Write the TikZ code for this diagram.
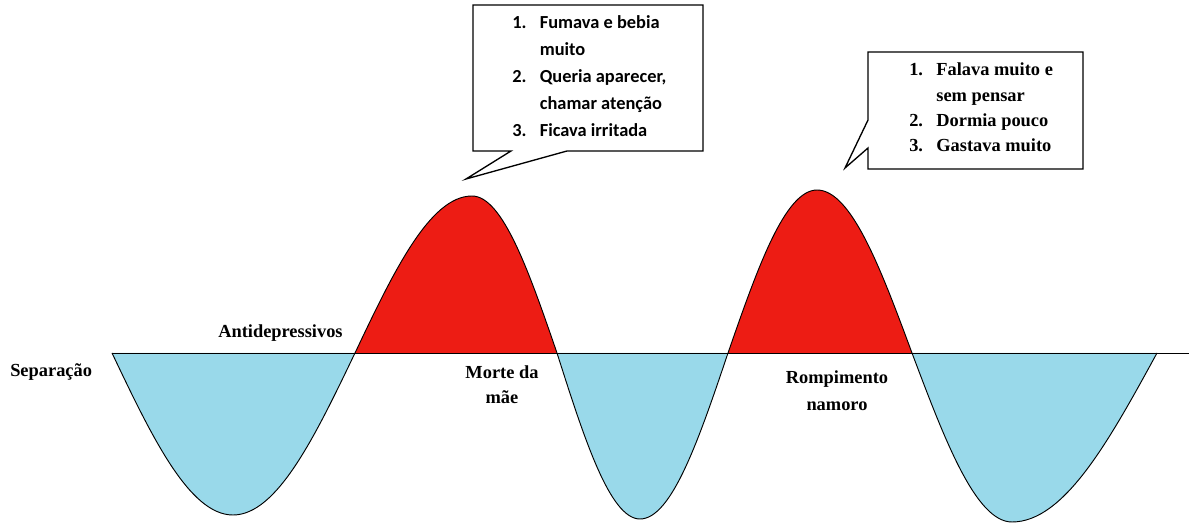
\documentclass[tikz,border=0pt]{standalone}
\usepackage{fontspec}
\setmainfont{Liberation Serif}
\newfontfamily\calib{Carlito}
\definecolor{wred}{RGB}{237,28,20}
\definecolor{wblue}{RGB}{153,217,234}
\begin{document}
\begin{tikzpicture}[x=0.75pt,y=-0.75pt,
  curveline/.style={draw=black,line width=0.7pt,line join=round},
  boxline/.style={draw=black,line width=1pt,fill=white,line join=miter},
  lbl/.style={inner sep=0pt,font=\fontsize{13.8}{18.75}\selectfont\bfseries},
  txt/.style={inner sep=0pt,anchor=base west}]
\useasboundingbox (0,0) rectangle (1189,523);
% lobes
\fill[wblue] (112,353) sin (233,515) cos (355,353) -- cycle;
\fill[wred]  (355,353) sin (472,196) cos (557,353) -- cycle;
\fill[wblue] (557,353) sin (640,519) cos (728,353) -- cycle;
\fill[wred]  (728,353) sin (817,190) cos (912,353) -- cycle;
\fill[wblue] (912,353) sin (1012,522) cos (1157,353) -- cycle;
% axis
\draw[line width=0.7pt] (112,353) -- (1189,353);
% curve
\draw[curveline] (112,353) sin (233,515) cos (355,353) sin (472,196) cos (557,353)
  sin (640,519) cos (728,353) sin (817,190) cos (912,353) sin (1012,522) cos (1157,353);
% callout 1
\coordinate (c1tl) at (473,5);
\coordinate (c1tr) at (703,5);
\coordinate (c1br) at (703,151);
\coordinate (c1bl) at (473,151);
\coordinate (c1a) at (511,151);
\coordinate (c1tip) at (466,179);
\coordinate (c1b) at (567,151);
\draw[boxline] (c1a) -- (c1bl) -- (c1tl) -- (c1tr) -- (c1br) -- (c1b) -- (c1tip) -- cycle;
\node[txt] (t1) at (512,29) {\calib\fontsize{13.8}{20.25}\selectfont\bfseries
  \begin{tabular}[t]{@{}l@{\hspace{10pt}}l@{}}
  1. & Fumava e bebia\\
     & muito\\
  2. & Queria aparecer,\\
     & chamar atenção\\
  3. & Ficava irritada
  \end{tabular}};
% callout 2
\coordinate (c2tl) at (868,52);
\coordinate (c2tr) at (1083,52);
\coordinate (c2br) at (1083,169);
\coordinate (c2bl) at (868,169);
\coordinate (c2a) at (868,120);
\coordinate (c2tip) at (845,168);
\coordinate (c2b) at (868,148);
\draw[boxline] (c2b) -- (c2bl) -- (c2br) -- (c2tr) -- (c2tl) -- (c2a) -- (c2tip) -- cycle;
\node[txt] (t2) at (909,76) {\fontsize{13.8}{18.9}\selectfont\bfseries
  \begin{tabular}[t]{@{}l@{\hspace{10pt}}l@{}}
  1. & Falava muito e\\
     & sem pensar\\
  2. & Dormia pouco\\
  3. & Gastava muito
  \end{tabular}};
% labels
\node[lbl,anchor=west] (sep) at (10,372) {Separação};
\node[lbl,anchor=west] (anti) at (218,333) {Antidepressivos};
\node[lbl,align=center] (morte) at (502,385) {Morte da\\mãe};
\node[lbl,align=center,font=\fontsize{13.8}{20.25}\selectfont\bfseries] (romp) at (837,391) {Rompimento\\namoro};
\end{tikzpicture}
\end{document}
